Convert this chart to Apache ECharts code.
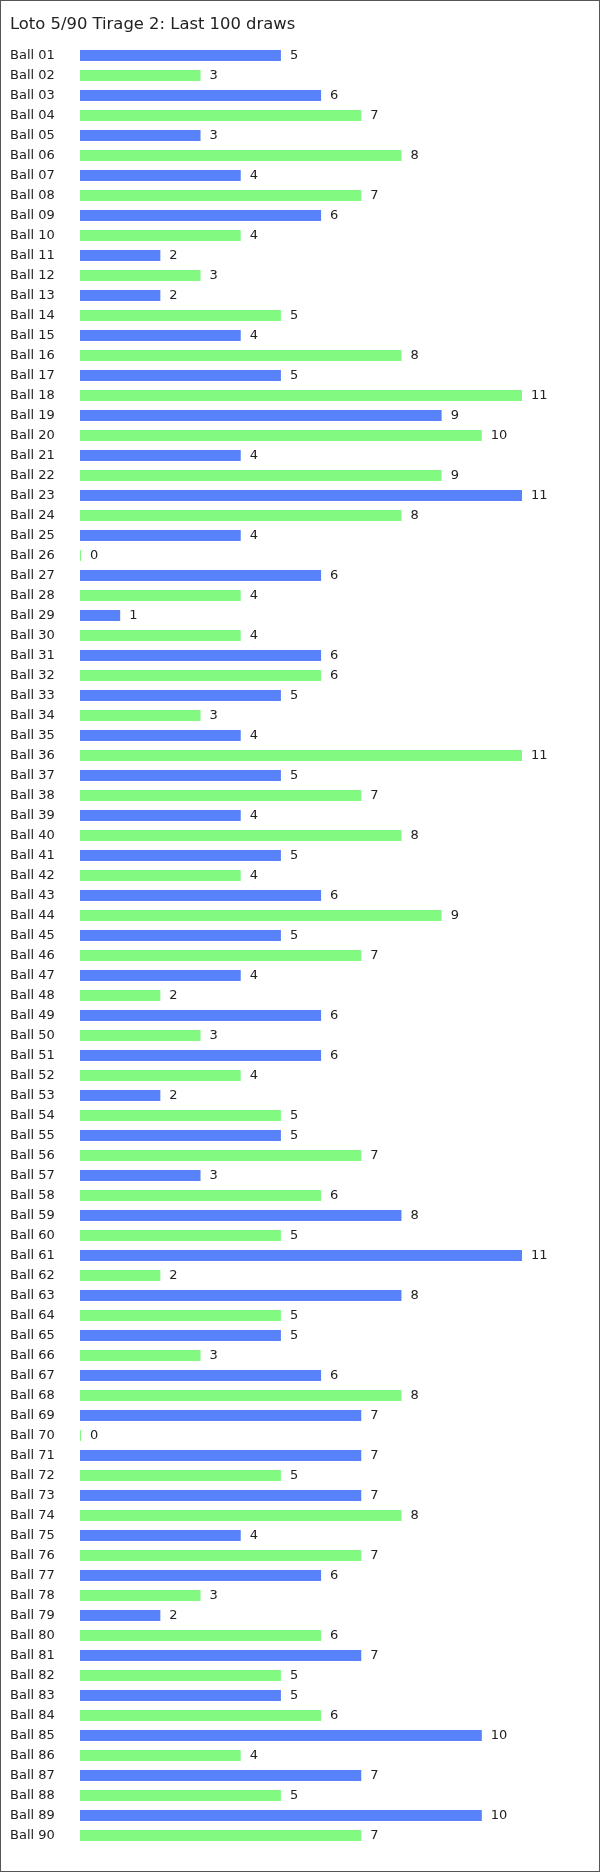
<!DOCTYPE html>
<html>
<head>
<meta charset="utf-8">
<script src="https://cdn.jsdelivr.net/npm/echarts@6/dist/echarts.min.js"></script>
<style>
html,body{margin:0;padding:0;background:#fff;}
#c{width:600px;height:1872px;box-sizing:border-box;border:1px solid #555;}
</style>
</head>
<body>
<div id="c"></div>
<script>
var titleText = 'Loto 5/90 Tirage 2: Last 100 draws';
var balls = [];
for (var i = 1; i <= 90; i++) balls.push('Ball ' + (i < 10 ? '0' + i : '' + i));
var counts = [5,3,6,7,3,8,4,7,6,4, 2,3,2,5,4,8,5,11,9,10, 4,9,11,8,4,0,6,4,1,4,
              6,6,5,3,4,11,5,7,4,8, 5,4,6,9,5,7,4,2,6,3, 6,4,2,5,5,7,3,6,8,5,
              11,2,8,5,5,3,6,8,7,0, 7,5,7,8,4,7,6,3,2,6, 7,5,5,6,10,4,7,5,10,7];
var BLUE = '#5882FA', GREEN = '#82FA82';
var chart = echarts.init(document.getElementById('c'), null, {renderer:'canvas'});
chart.setOption({
  animation:false,
  backgroundColor:'#fff',
  title:{text:titleText,left:4,top:11,padding:5,textStyle:{fontFamily:'DejaVu Sans',fontSize:16.4,fontWeight:'normal',color:'#222'}},
  grid:{left:79,top:44.4,width:442,height:1800,containLabel:false},
  xAxis:{type:'value',min:0,max:11,show:false,splitLine:{show:false}},
  yAxis:{type:'category',data:balls,inverse:true,
    axisLine:{show:false},axisTick:{show:false},
    axisLabel:{align:'left',margin:70,fontFamily:'DejaVu Sans',fontSize:13,color:'#222'}},
  series:[{type:'bar',data:counts,barWidth:11,barMinHeight:1,
    itemStyle:{color:function(p){return p.dataIndex%2===0?BLUE:GREEN;}},
    label:{show:true,position:'right',distance:9,fontFamily:'DejaVu Sans',fontSize:13,color:'#222'}}]
});
</script>
</body>
</html>
